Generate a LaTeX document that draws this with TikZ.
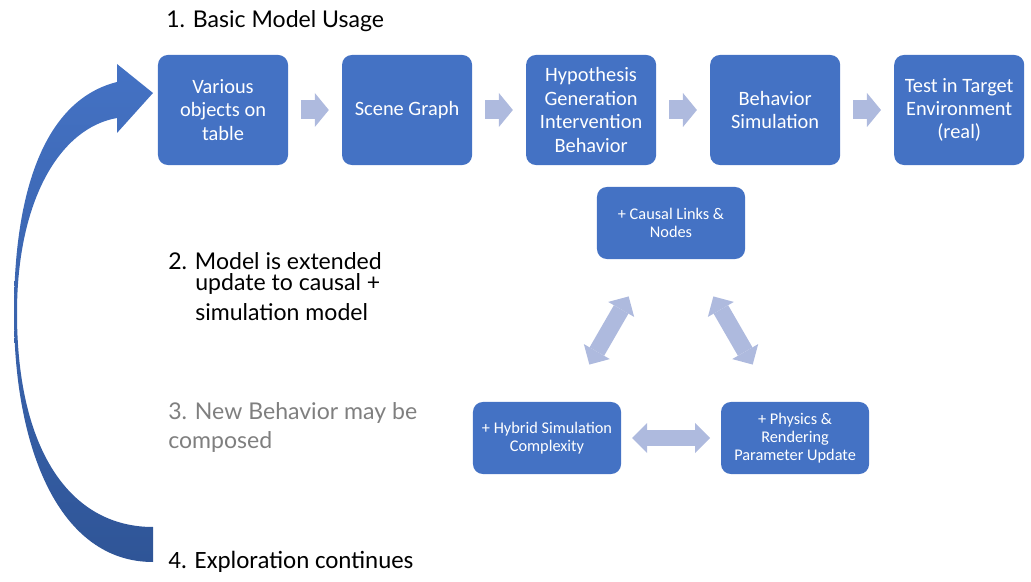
\documentclass[tikz,border=0pt]{standalone}
\usepackage{fontspec}
\setmainfont{Carlito}
\newfontfamily\latofont{Lato}
\usepackage{xcolor}
\usetikzlibrary{positioning,arrows.meta}

\definecolor{boxblue}{HTML}{4472C4}
\definecolor{darkblue}{HTML}{2F5597}
\definecolor{paleblue}{RGB}{174,186,222}
\definecolor{textgray}{HTML}{7F7F7F}

\tikzset{
    stagebox/.style={draw=none,
        fill=boxblue,
        rounded corners=7pt,
        text=white,
        align=center,
        inner sep=2pt,
        outer sep=0pt,
        minimum width=3.25cm,
        minimum height=2.75cm,
        font=\fontsize{14.5}{16.6}\selectfont},
    loopbox/.style={stagebox,
        minimum width=3.7cm,
        minimum height=1.8cm,
        font=\fontsize{11.6}{12.8}\selectfont},
    flowarrow/.style={paleblue,
        line width=0.475cm,
        shorten <=0.33cm,
        shorten >=0.33cm,
        -{Triangle[length=0.35cm,width=0.85cm,line width=0pt]}},
    linkarrow/.style={paleblue,
        line width=0.42cm,
        {Triangle[length=0.375cm,width=0.75cm,line width=0pt]}-{Triangle[length=0.375cm,width=0.75cm,line width=0pt]}},
    steptext/.style={anchor=base west,
        inner sep=0pt,
        font=\latofont\fontsize{16.4}{19}\selectfont}
}

\begin{document}
\begin{tikzpicture}[x=0.025cm,y=-0.025cm]
    \useasboundingbox (0,0) rectangle (1031,582);
    % Loop arrow
    \shade[top color=boxblue, bottom color=darkblue]
        (153,562) .. controls (60,562) and (14,450) .. (14,313)
        .. controls (14,190) and (45,100) .. (117,82)
        -- (117,64) -- (153,93) -- (117,133) -- (117,118)
        .. controls (60,128) and (17,200) .. (17,313)
        .. controls (17,450) and (70,527) .. (153,527) -- cycle;
    % Basic pipeline
    \node [stagebox] (objects) at (223,110) {Various\\objects on\\table};
    \node [stagebox, right=1.35cm of objects] (scene) {Scene Graph};
    \node [stagebox, right=1.35cm of scene] (hypo) {Hypothesis\\Generation\\Intervention\\Behavior};
    \node [stagebox, right=1.35cm of hypo] (behav) {Behavior\\Simulation};
    \node [stagebox, right=1.35cm of behav] (target) {Test in Target\\Environment\\(real)};
    \draw [flowarrow] (objects) -- (scene);
    \draw [flowarrow] (scene) -- (hypo);
    \draw [flowarrow] (hypo) -- (behav);
    \draw [flowarrow] (behav) -- (target);
    % Extension loop
    \node [loopbox] (causal) at (671,223) {+ Causal Links \&\\Nodes};
    \node [loopbox] (hybrid) at (547,438) {+ Hybrid Simulation\\Complexity};
    \node [loopbox, right=2.5cm of hybrid] (physics) {+ Physics \&\\Rendering\\Parameter Update};
    \draw [linkarrow, shorten <=1.08cm, shorten >=1.08cm] (causal) -- (hybrid);
    \draw [linkarrow, shorten <=1.08cm, shorten >=1.08cm] (causal) -- (physics);
    \draw [linkarrow, shorten <=0.275cm, shorten >=0.275cm] (hybrid) -- (physics);
    % Step labels
    \node [steptext] (stepone) at (166,28) {1. Basic Model Usage};
    \node [steptext] (steptwo) at (168,270) {2. Model is extended};
    \node [steptext] (steptwob) at (195,291) {update to causal +};
    \node [steptext] (steptwoc) at (195,321) {simulation model};
    \node [steptext, text=textgray] (stepthree) at (168,419) {3. New Behavior may be};
    \node [steptext, text=textgray] (stepthreeb) at (168,449) {composed};
    \node [steptext, font=\fontsize{17.7}{20}\selectfont] (stepfour) at (168,568) {4. Exploration continues};
\end{tikzpicture}
\end{document}
